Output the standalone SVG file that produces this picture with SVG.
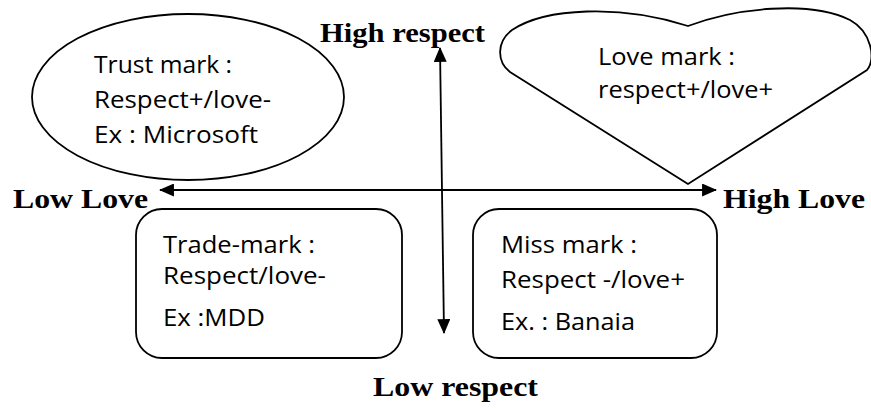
<svg xmlns="http://www.w3.org/2000/svg" width="871" height="408" viewBox="0 0 871 408">
  <style>
    .shape { fill: #ffffff; stroke: #000000; stroke-width: 1.8; }
    .body { font-family: "Open Sans", "Liberation Sans", sans-serif; font-size: 23.5px; fill: #000000; }
    .axis { font-family: "Liberation Serif", "Times New Roman", serif; font-size: 28px; font-weight: bold; fill: #000000; }
    .line { stroke: #000000; stroke-width: 1.8; fill: none; }
  </style>
  <defs>
    <marker id="head" viewBox="0 0 16 14" refX="15" refY="7" markerWidth="15" markerHeight="13" markerUnits="userSpaceOnUse" orient="auto-start-reverse">
      <path d="M0,0 L16,7 L0,14 Z" fill="#000000"/>
    </marker>
  </defs>
  <rect width="871" height="408" fill="#ffffff"/>

  <!-- quadrant shapes -->
  <g id="trust-mark">
    <ellipse class="shape" cx="188" cy="97" rx="156" ry="83"/>
    <text class="body" x="94" y="73" textLength="138" lengthAdjust="spacingAndGlyphs">Trust mark :</text>
    <text class="body" x="94" y="108" textLength="177" lengthAdjust="spacingAndGlyphs">Respect+/love-</text>
    <text class="body" x="94" y="143" textLength="164" lengthAdjust="spacingAndGlyphs">Ex : Microsoft</text>
  </g>

  <g id="love-mark">
    <path class="shape" d="M688,184 L510,72 C497,62 496,42 512,30 C545,8 620,4 688,26 C735,8 810,0 850,20 C872,32 876,60 867,70 Z"/>
    <text class="body" x="598" y="65" textLength="137" lengthAdjust="spacingAndGlyphs">Love mark :</text>
    <text class="body" x="598" y="98" textLength="175" lengthAdjust="spacingAndGlyphs">respect+/love+</text>
  </g>

  <g id="trade-mark">
    <rect class="shape" x="136" y="209" width="266" height="149" rx="26" ry="26"/>
    <text class="body" x="163" y="253" textLength="152" lengthAdjust="spacingAndGlyphs">Trade-mark :</text>
    <text class="body" x="163" y="284" textLength="163" lengthAdjust="spacingAndGlyphs">Respect/love-</text>
    <text class="body" x="163" y="326" textLength="102" lengthAdjust="spacingAndGlyphs">Ex :MDD</text>
  </g>

  <g id="miss-mark">
    <rect class="shape" x="473" y="209" width="244" height="149" rx="26" ry="26"/>
    <text class="body" x="501" y="253" textLength="136" lengthAdjust="spacingAndGlyphs">Miss mark :</text>
    <text class="body" x="501" y="288" textLength="184" lengthAdjust="spacingAndGlyphs">Respect -/love+</text>
    <text class="body" x="501" y="330" textLength="134" lengthAdjust="spacingAndGlyphs">Ex. : Banaia</text>
  </g>

  <!-- axes -->
  <g id="connectors">
    <line class="line" x1="160" y1="190" x2="716" y2="190" marker-start="url(#head)" marker-end="url(#head)"/>
    <line class="line" x1="440" y1="48" x2="444" y2="333" marker-start="url(#head)" marker-end="url(#head)"/>
  </g>

  <g id="axis-labels">
    <text class="axis" x="320" y="42" textLength="165" lengthAdjust="spacingAndGlyphs">High respect</text>
    <text class="axis" x="13" y="208" textLength="135" lengthAdjust="spacingAndGlyphs">Low Love</text>
    <text class="axis" x="723" y="208" textLength="142" lengthAdjust="spacingAndGlyphs">High Love</text>
    <text class="axis" x="373" y="396" textLength="165" lengthAdjust="spacingAndGlyphs">Low respect</text>
  </g>
</svg>
